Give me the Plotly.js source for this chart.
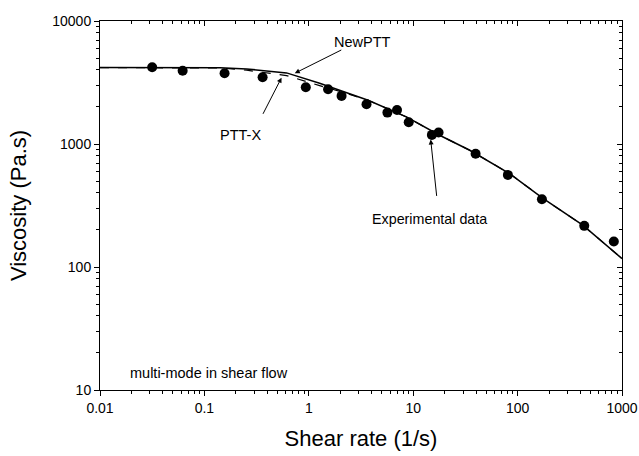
<!DOCTYPE html>
<html>
<head>
<meta charset="utf-8">
<script src="https://cdn.plot.ly/plotly-3.0.1.min.js"></script>
<style>html,body{margin:0;padding:0;background:#fff;}#chart{width:639px;height:456px;}</style>
</head>
<body>
<div id="chart"></div>
<script>
// Experimental data
var shearRate = [0.0316, 0.0619, 0.156, 0.361, 0.936, 1.53, 2.06, 3.57, 5.66, 7.0, 9.06, 15.1, 17.5, 39.6, 80.7, 171, 435, 835];
var viscosity = [4210, 3945, 3758, 3490, 2892, 2790, 2460, 2107, 1800, 1892, 1503, 1186, 1239, 832, 561, 356, 216, 161];

// Model curves
var modelRate = [0.01, 0.0375, 0.141, 0.254, 0.612, 1.27, 1.98, 3.70, 8.6, 17.9, 34.8, 83.8, 175, 421, 1000];
var newPTT    = [4180, 4180, 4170, 4075, 3785, 3120, 2735, 2270, 1660, 1178, 890, 575, 361, 219, 117];
var pttX      = [4180, 4180, 4150, 3980, 3600, 2980, 2680, 2270, 1660, 1178, 890, 575, 361, 219, 117];

// Tick labels
var xTickVals = [0.01, 0.1, 1, 10, 100, 1000];
var xTickText = ["0.01", "0.1", "1", "10", "100", "1000"];
var yTickVals = [10, 100, 1000, 10000];
var yTickText = ["10", "100", "1000", "10000"];

function minorTicks(lo, hi) {
  var out = [];
  for (var d = lo; d < hi; d++) {
    for (var k = 2; k <= 9; k++) out.push(k * Math.pow(10, d));
  }
  return out;
}
var xMinor = minorTicks(-2, 3);
var yMinor = minorTicks(1, 4);

var FONT = "Liberation Sans, Arial, sans-serif";

var traces = [
  {x: modelRate, y: newPTT, mode: "lines", line: {color: "#000", width: 1.5}, name: "NewPTT", hoverinfo: "skip"},
  {x: modelRate, y: pttX, mode: "lines", line: {color: "#000", width: 1.2, dash: "dash"}, name: "PTT-X", hoverinfo: "skip"},
  {x: shearRate, y: viscosity, mode: "markers", marker: {color: "#000", size: 10}, name: "Experimental data"},
  {x: [], y: [], xaxis: "x2", yaxis: "y2", mode: "markers", showlegend: false}
];

var commonAxis = {
  type: "log", showgrid: false, zeroline: false, showline: true, linecolor: "#000", linewidth: 1,
  tickmode: "array", tickcolor: "#000", tickwidth: 1, ticklen: 5
};

var layout = {
  width: 639, height: 456,
  margin: {l: 100, r: 17, t: 21, b: 66, pad: 0},
  paper_bgcolor: "#fff", plot_bgcolor: "#fff",
  showlegend: false,
  font: {family: FONT, color: "#000", size: 14},
  xaxis: Object.assign({}, commonAxis, {
    range: [-2, 3], tickvals: xTickVals, ticktext: xTickText, ticks: "outside",
    tickfont: {size: 14, family: FONT},
    minor: {tickmode: "array", tickvals: xMinor, ticks: "outside", ticklen: 3, tickcolor: "#000", showgrid: false},
    title: {text: "Shear rate (1/s)", font: {size: 22, family: FONT}, standoff: 15},
    anchor: "y"
  }),
  yaxis: Object.assign({}, commonAxis, {
    range: [1, 4], tickvals: yTickVals, ticktext: yTickText, ticks: "outside",
    tickfont: {size: 14, family: FONT},
    minor: {tickmode: "array", tickvals: yMinor, ticks: "outside", ticklen: 3, tickcolor: "#000", showgrid: false},
    title: {text: "Viscosity (Pa.s)", font: {size: 22, family: FONT}, standoff: 19},
    anchor: "x"
  }),
  xaxis2: Object.assign({}, commonAxis, {
    range: [-2, 3], tickvals: xTickVals, ticks: "inside", showticklabels: false,
    minor: {tickmode: "array", tickvals: xMinor, ticks: "inside", ticklen: 3, tickcolor: "#000", showgrid: false},
    overlaying: "x", side: "top", anchor: "y"
  }),
  yaxis2: Object.assign({}, commonAxis, {
    range: [1, 4], tickvals: yTickVals, ticks: "inside", showticklabels: false,
    minor: {tickmode: "array", tickvals: yMinor, ticks: "inside", ticklen: 3, tickcolor: "#000", showgrid: false},
    overlaying: "y", side: "right", anchor: "x"
  }),
  annotations: [
    {x: Math.log10(0.734), y: Math.log10(3760), xref: "x", yref: "y", text: " ", showarrow: true,
     ax: 50, ay: -25, arrowhead: 2, arrowsize: 1, arrowwidth: 1, arrowcolor: "#000", standoff: 0, startstandoff: 0},
    {x: Math.log10(0.548), y: Math.log10(3461), xref: "x", yref: "y", text: " ", showarrow: true,
     ax: -22, ay: 43, arrowhead: 2, arrowsize: 1, arrowwidth: 1, arrowcolor: "#000", standoff: 0, startstandoff: 0},
    {x: Math.log10(14.7), y: Math.log10(1089), xref: "x", yref: "y", text: " ", showarrow: true,
     ax: 7, ay: 66, arrowhead: 2, arrowsize: 1, arrowwidth: 1, arrowcolor: "#000", standoff: 0, startstandoff: 0},
    {x: 0.517, y: 3.827, xref: "x", yref: "y", text: "NewPTT", showarrow: false, font: {size: 14.5}},
    {x: -0.651, y: 3.071, xref: "x", yref: "y", text: "PTT-X", showarrow: false, font: {size: 14.5}},
    {x: 1.153, y: 2.389, xref: "x", yref: "y", text: "Experimental data", showarrow: false, font: {size: 14.3}},
    {x: -1.729, y: 1.136, xref: "x", yref: "y", text: "multi-mode in shear flow", showarrow: false, xanchor: "left", font: {size: 14.5}}
  ]
};

Plotly.newPlot("chart", traces, layout, {displayModeBar: false, staticPlot: true});
</script>
</body>
</html>
